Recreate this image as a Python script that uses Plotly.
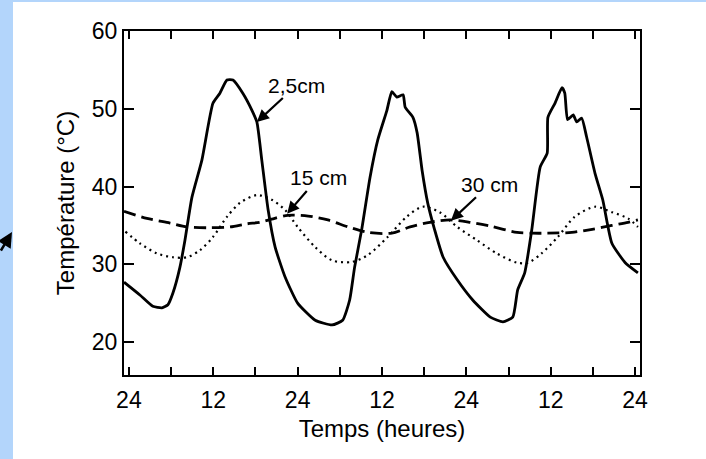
import plotly.graph_objects as go

# ---- data (hours from start, temperature °C) ----
solid_t = [-0.7, 1.56, 3.4, 4.7, 5.55, 6.26, 7.25, 7.97, 8.96, 10.38, 11.95, 12.94, 13.94, 14.8, 16.2,
           17.5, 18.2, 18.9, 19.8, 20.8, 22.2, 24.0, 26.5, 28.9, 30.4, 31.4, 32.1, 33.1, 34.3, 35.4,
           36.7, 37.4, 38.1, 39.0, 39.3, 40.4, 41.0, 41.7, 42.5, 43.5, 44.7, 46.7, 48.9, 51.4, 53.2,
           54.6, 55.3, 56.3, 57.3, 58.5, 59.5, 59.6, 60.6, 61.6, 62.0, 62.4, 63.2, 63.7, 64.4, 65.1,
           66.3, 67.4, 68.7, 70.6, 72.4]
solid_T = [27.7, 26.05, 24.6, 24.4, 24.8, 26.3, 29.6, 33.1, 38.6, 43.4, 50.7, 52.0, 53.7, 53.7, 52.0,
           49.8, 48.3, 43.4, 37.0, 32.2, 28.4, 25.0, 22.8, 22.2, 22.8, 25.4, 29.6, 34.4, 41.2, 46.0,
           49.8, 52.2, 51.5, 51.8, 50.2, 48.9, 46.9, 42.1, 37.9, 34.4, 30.9, 28.0, 25.4, 23.2, 22.6,
           23.2, 26.7, 28.9, 34.4, 42.5, 44.3, 48.9, 50.7, 52.7, 52.0, 48.6, 49.2, 48.3, 48.8, 46.4,
           41.7, 38.3, 32.7, 30.2, 28.9]

dot_t = [-0.5, 1.56, 3.98, 6.26, 8.25, 10.1, 11.95, 13.94, 15.8, 18.2, 20.3, 22.2, 24.0, 26.5, 28.9,
         31.7, 34.0, 36.8, 39.5, 41.8, 44.2, 46.7, 49.5, 52.3, 55.2, 56.8, 58.7, 61.0, 63.4, 66.3,
         68.7, 71.0, 72.4]
dot_T = [34.2, 32.7, 31.4, 30.9, 30.9, 31.8, 33.5, 36.1, 37.9, 38.9, 38.3, 37.0, 34.8, 32.2, 30.5,
         30.3, 31.2, 33.5, 36.1, 37.4, 36.7, 34.8, 33.1, 31.4, 30.2, 30.2, 31.4, 33.5, 36.1, 37.4,
         36.7, 35.9, 34.8]

dash_t = [-0.7, 2.56, 5.83, 8.25, 11.5, 14.4, 16.8, 18.6, 20.3, 22.6, 25.5, 28.3, 31.2, 34.0, 37.4,
          40.0, 42.8, 45.7, 48.5, 51.4, 55.2, 57.3, 59.6, 63.0, 65.9, 68.7, 71.0, 72.4]
dash_T = [36.8, 35.9, 35.3, 34.8, 34.7, 34.8, 35.2, 35.4, 35.8, 36.3, 36.2, 35.7, 34.8, 34.1, 34.0,
          34.8, 35.4, 35.7, 35.4, 34.9, 34.1, 34.0, 34.0, 34.1, 34.5, 35.0, 35.4, 35.7]

x_tick_vals = [0, 6, 12, 18, 24, 30, 36, 42, 48, 54, 60, 66, 72]
x_tick_text = ["24", "", "12", "", "24", "", "12", "", "24", "", "12", "", "24"]
y_tick_vals = [20, 30, 40, 50, 60]

series_labels = ["2,5cm", "15 cm", "30 cm"]

FONT = "Liberation Sans, Arial, sans-serif"

fig = go.Figure()
fig.add_trace(go.Scatter(x=solid_t, y=solid_T, mode="lines", name=series_labels[0],
                         line=dict(color="black", width=2.8, shape="spline", smoothing=0.5),
                         showlegend=False))
fig.add_trace(go.Scatter(x=dot_t, y=dot_T, mode="lines", name=series_labels[1],
                         line=dict(color="black", width=2.2, dash="2px,4px", shape="spline", smoothing=0.8),
                         showlegend=False))
fig.add_trace(go.Scatter(x=dash_t, y=dash_T, mode="lines", name=series_labels[2],
                         line=dict(color="black", width=2.8, dash="12px,6px", shape="spline", smoothing=0.8),
                         showlegend=False))

W, H = 706, 459
L, R, T, B = 124, 66, 31, 84
pw, ph = W - L - R, H - T - B

def px(xp):
    return (xp - L) / pw

def py(yp):
    return (H - B - yp) / ph

ann_style = dict(showarrow=True, arrowhead=2, arrowsize=1.1, arrowwidth=2.2, arrowcolor="black",
                 axref="x", ayref="y", font=dict(family=FONT, size=21, color="black"))
annotations = [
    dict(x=18.2, y=48.3, ax=23.9, ay=53.05, text=series_labels[0], **ann_style),
    dict(x=22.5, y=36.5, ax=26.9, ay=41.1, text=series_labels[1], **ann_style),
    dict(x=45.8, y=35.6, ax=51.35, ay=40.3, text=series_labels[2], **ann_style),
    dict(xref="paper", yref="paper", x=px(12), y=py(232), ax=-14, ay=20, text="",
         showarrow=True, arrowhead=2, arrowsize=1.2, arrowwidth=2.5, arrowcolor="black"),
]

shapes = [
    dict(type="rect", xref="paper", yref="paper", x0=px(0), x1=px(13), y0=py(H), y1=py(0),
         fillcolor="#b3d5fb", line=dict(width=0), layer="below"),
    dict(type="rect", xref="paper", yref="paper", x0=px(0), x1=px(W), y0=py(2), y1=py(0),
         fillcolor="#b3d5fb", line=dict(width=0), layer="below"),
]

axis_common = dict(showline=True, linecolor="black", linewidth=2.2, mirror="ticks",
                   ticks="inside", tickcolor="black", tickwidth=2, showgrid=False, zeroline=False,
                   tickfont=dict(family=FONT, size=23, color="black"))

fig.update_xaxes(range=[-0.7, 72.7], tickmode="array", tickvals=x_tick_vals, ticktext=x_tick_text,
                 ticklen=8, ticklabelstandoff=3,
                 title=dict(text="Temps (heures)", font=dict(family=FONT, size=24, color="black"),
                            standoff=8), **axis_common)
fig.update_yaxes(range=[15.76, 60], tickmode="array", tickvals=y_tick_vals, ticklen=10,
                 title=dict(text="Température (°C)", font=dict(family=FONT, size=24, color="black"),
                            standoff=10), **axis_common)

fig.update_layout(width=W, height=H, margin=dict(l=L, r=R, t=T, b=B, autoexpand=False),
                  paper_bgcolor="white", plot_bgcolor="white", annotations=annotations, shapes=shapes,
                  font=dict(family=FONT, color="black"))

fig.write_html("out.html")
